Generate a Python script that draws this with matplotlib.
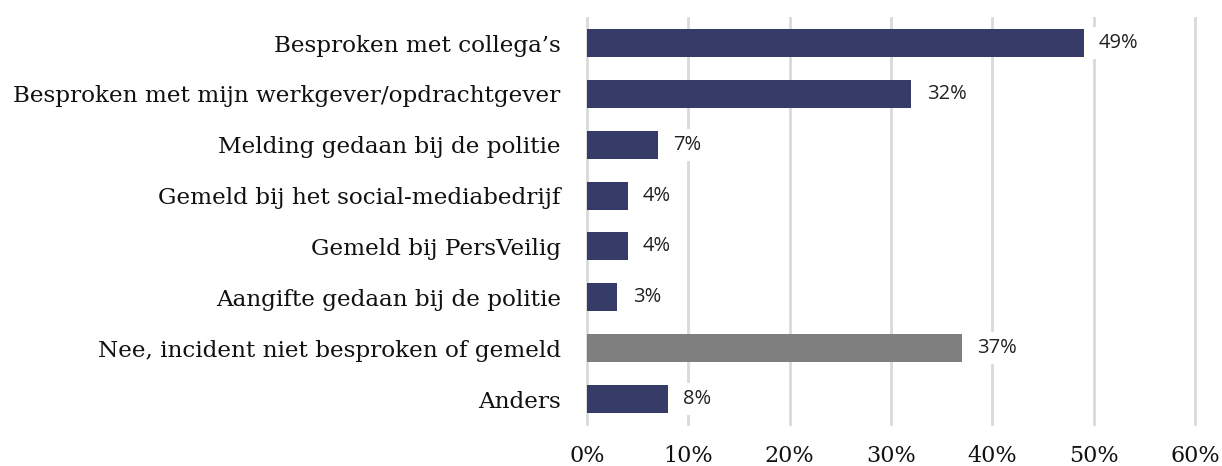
import matplotlib.pyplot as plt
from matplotlib.ticker import PercentFormatter

categories = [
    "Besproken met collega’s",
    "Besproken met mijn werkgever/opdrachtgever",
    "Melding gedaan bij de politie",
    "Gemeld bij het social-mediabedrijf",
    "Gemeld bij PersVeilig",
    "Aangifte gedaan bij de politie",
    "Nee, incident niet besproken of gemeld",
    "Anders",
]
values = [49, 32, 7, 4, 4, 3, 37, 8]
colors = ["#363b68"] * 6 + ["#7f7f7f", "#363b68"]
x_ticks = [0, 10, 20, 30, 40, 50, 60]

fig = plt.figure(figsize=(12.22, 4.66), dpi=100)
ax = fig.add_axes([0.4804, 0.0891, 0.4975, 0.8731])

y = list(range(len(categories)))
ax.barh(y, values, height=0.55, color=colors, zorder=2)

for yi, v in zip(y, values):
    ax.annotate(f"{v}%", (v, yi), xytext=(11, 0), textcoords="offset points",
                va="center", ha="left", fontsize=14.5, family="Open Sans", color="#222222",
                bbox=dict(boxstyle="square,pad=0.3", fc="white", ec="none"), zorder=3)

ax.set_xlim(0, 60)
ax.set_ylim(len(categories) - 0.5, -0.5)
ax.set_xticks(x_ticks)
ax.xaxis.set_major_formatter(PercentFormatter(decimals=0))
ax.set_yticks(y)
ax.set_yticklabels(categories, family="DejaVu Serif", fontsize=16.7, color="#111111")
for lbl in ax.get_xticklabels():
    lbl.set_family("DejaVu Serif")
    lbl.set_fontsize(16)
    lbl.set_color("#111111")
ax.tick_params(length=0)
ax.tick_params(axis="y", pad=19)
ax.tick_params(axis="x", pad=15)
ax.grid(axis="x", color="#d9d9d9", linewidth=2, zorder=0)
for gl in ax.get_xgridlines():
    gl.set_clip_on(False)
ax.set_axisbelow(True)
for s in ax.spines.values():
    s.set_visible(False)

plt.savefig("out.png", dpi=100)
